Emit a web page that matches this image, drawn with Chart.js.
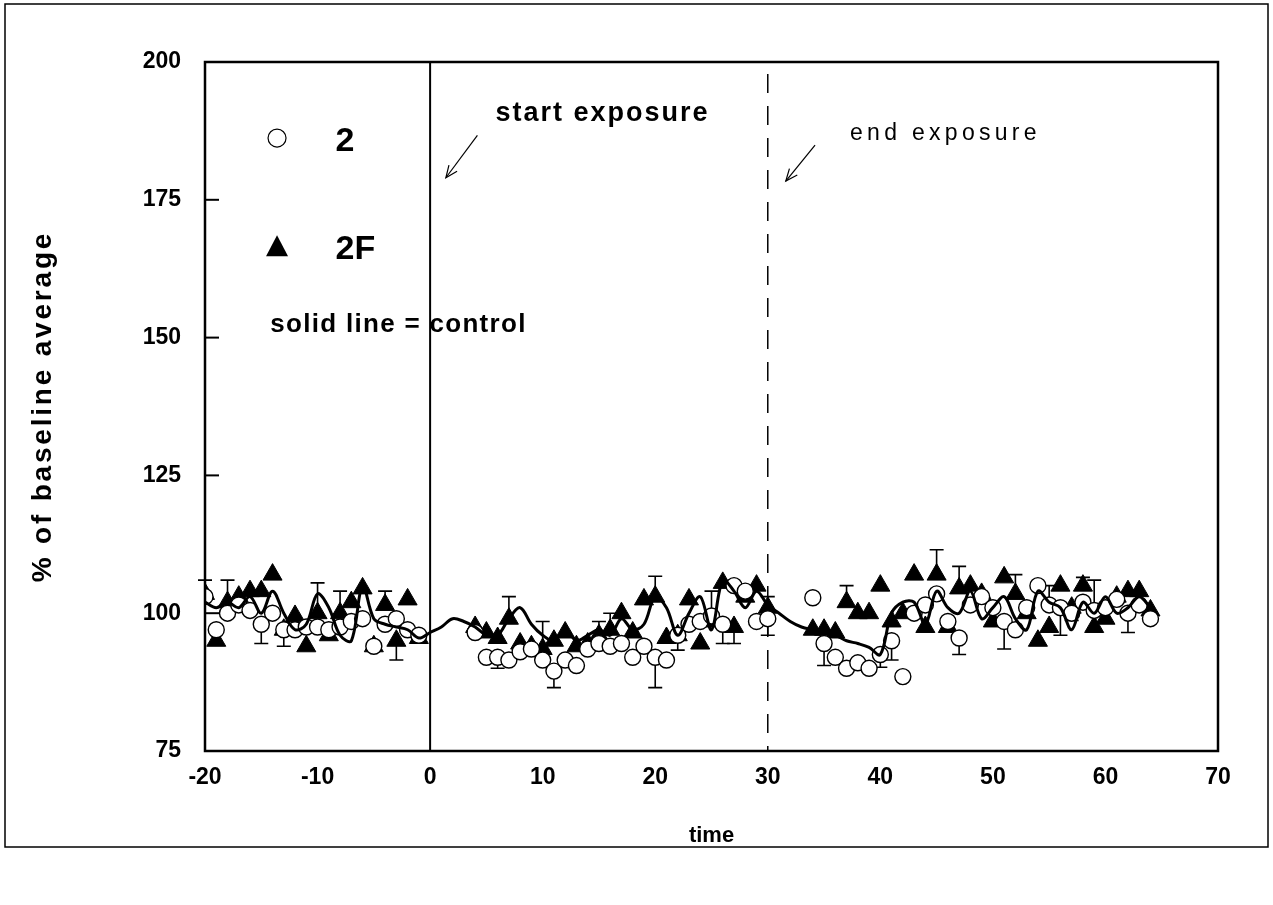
<!DOCTYPE html>
<html><head><meta charset="utf-8">
<script src="https://cdn.jsdelivr.net/npm/chart.js@4/dist/chart.umd.min.js"></script>
<style>html,body{margin:0;padding:0;background:#fff}canvas{display:block}</style>
</head><body>
<canvas id="c" width="1273" height="905"></canvas>
<script>
// ---- data ----
const timesA = [-20,-19,-18,-17,-16,-15,-14,-13,-12,-11,-10,-9,-8,-7,-6,-5,-4,-3,-2,-1];
const circA  = [103,97,100,101.5,100.5,98,100,97,97,97.5,97.5,97,97.5,98.5,99,94,98,99,97,96];
const triA   = [103.5,95,102,103,104,104,107,97,99.5,94,100,96,100,102,104.5,94,101.5,95,102.5,95.5];
const errCircA = [0,0,0,0,0,-3.5,0,0,0,0,0,0,0,0,0,0,0,0,0,0];
const errTriA  = [2.5,0,4,0,0,0,0,-3,0,0,5.5,0,4,0,0,0,2.5,-3.5,0,0];

const timesB = [4,5,6,7,8,9,10,11,12,13,14,15,16,17,18,19,20,21,22,23,24,25,26,27,28,29,30];
const circB  = [96.5,92,92,91.5,93,93.5,91.5,89.5,91.5,90.5,93.5,94.5,94,94.5,92,94,92,91.5,96,98,98.5,99.5,98,105,104,98.5,99];
const triB   = [97.5,96.5,95.5,99,94.5,94,93.5,95,96.5,94,94.5,96,97,100,96.5,102.5,103,95.5,96,102.5,94.5,98.5,105.5,97.5,103,105,101];
const errCircB = [0,0,-2,0,0,0,0,-3,0,0,0,0,0,0,0,0,-5.5,0,0,0,0,0,-3.5,0,0,0,-3];
const errTriB  = [0,0,0,4,0,0,5,0,0,0,0,2.5,3,0,0,0,3.7,0,-2.7,0,0,5.5,0,-3,0,0,2];

const timesC = [34,35,36,37,38,39,40,41,42,43,44,45,46,47,48,49,50,51,52,53,54,55,56,57,58,59,60,61,62,63,64];
const circC  = [102.8,94.5,92,90,91,90,92.5,95,88.5,100,101.5,103.5,98.5,95.5,101.5,103,101,98.5,97,101,105,101.5,101,100,102,100.5,101,102.5,100,101.5,99];
const triC   = [97,97,96.5,102,100,100,105,98.5,100,107,97.5,107,97.5,104.5,105,103.5,98.5,106.5,103.5,100,95,97.5,105,101,105,97.5,99,103,104,104,100.5];
const errCircC = [0,-4,0,0,0,0,-2.3,-3.5,0,0,0,0,0,-3,0,0,0,-5,0,0,0,3.5,-5,0,0,5.5,0,0,-3.5,0,0];
const errTriC  = [0,0,0,3,0,0,0,0,0,0,0,4.5,0,4,0,0,0,0,3.5,0,0,0,0,-2.3,1.5,0,0,0,0,0,0];

const controlTimes = [];
for (let t = -20; t <= 64; t++) controlTimes.push(t);
const controlValues = [
  102,101,102,101,103,100,104,100,97,98,
  103.5,101,96,95,105,99,98,97.5,97,95.5,
  96.5,97.5,99,98.5,97.5,96,96,99,101,98,
  96,95,97,95,96,97,96,99,97,98,
  103,101,96,100,103,97,106,104,101,104,
  101.5,100,98.5,97.5,97,96.5,96,95,94.5,93.8,
  92.5,100,102,102,98,104,101,100,104,99,
  101,103,99,97,104,102,101,97,102,100,
  103,100,101,103,101
];

const xTickValues = [-20,-10,0,10,20,30,40,50,60,70];
const yTickValues = [75,100,125,150,175,200];
const exposureStart = 0;
const exposureEnd = 30;
const legendLabels = ['2','2F'];
const noteText = 'solid line = control';
const startText = 'start exposure';
const endText = 'end exposure';

// ---- build ----
const pts = (ts, vs) => ts.map((t, i) => ({x: t, y: vs[i]}));
const circData = [...pts(timesA, circA), ...pts(timesB, circB), ...pts(timesC, circC)];
const triData  = [...pts(timesA, triA), ...pts(timesB, triB), ...pts(timesC, triC)];
const circErr = [...errCircA, ...errCircB, ...errCircC];
const triErr  = [...errTriA, ...errTriB, ...errTriC];
const ctrlData = pts(controlTimes, controlValues);

const FF = '"Liberation Sans", Arial, Helvetica, sans-serif';

function spaceTitle(scale, spacing) {
  if (scale._spaced) return;
  const orig = scale.drawTitle.bind(scale);
  scale.drawTitle = function () {
    const ctx = this.ctx;
    ctx.save();
    ctx.letterSpacing = spacing;
    orig();
    ctx.restore();
  };
  scale._spaced = true;
}

const deco = {
  id: 'deco',
  beforeDatasetsDraw(chart) {
    const {ctx, chartArea: a, scales: {x, y}} = chart;
    ctx.save();
    ctx.strokeStyle = '#000';
    let px = x.getPixelForValue(exposureStart);
    ctx.lineWidth = 2;
    ctx.beginPath(); ctx.moveTo(px, a.top); ctx.lineTo(px, a.bottom); ctx.stroke();
    px = x.getPixelForValue(exposureEnd);
    ctx.lineWidth = 1.5;
    ctx.setLineDash([19, 13]);
    ctx.beginPath(); ctx.moveTo(px, a.top + 12); ctx.lineTo(px, a.bottom); ctx.stroke();
    ctx.setLineDash([]);
    const drawErr = (data, err) => {
      ctx.lineWidth = 1.6;
      data.forEach((p, i) => {
        const e = err[i];
        if (!e) return;
        const cx = x.getPixelForValue(p.x);
        const y0 = y.getPixelForValue(p.y);
        const y1 = y.getPixelForValue(p.y + e);
        ctx.beginPath(); ctx.moveTo(cx, y0); ctx.lineTo(cx, y1);
        ctx.moveTo(cx - 7, y1); ctx.lineTo(cx + 7, y1); ctx.stroke();
      });
    };
    drawErr(triData, triErr);
    drawErr(circData, circErr);
    ctx.restore();
  },
  afterDraw(chart) {
    const {ctx, chartArea: a, scales: {x, y}} = chart;
    ctx.save();
    ctx.strokeStyle = '#000';
    ctx.fillStyle = '#000';
    ctx.lineWidth = 2.5;
    ctx.strokeRect(a.left, a.top, a.right - a.left, a.bottom - a.top);
    ctx.lineWidth = 2;
    yTickValues.forEach(v => {
      const py = y.getPixelForValue(v);
      ctx.beginPath(); ctx.moveTo(a.left, py); ctx.lineTo(a.left + 14, py); ctx.stroke();
    });
    ctx.lineWidth = 1.5;
    ctx.strokeRect(5, 4, 1263, 843);
    // legend
    const lx = x.getPixelForValue(-13.6);
    ctx.lineWidth = 1.2;
    ctx.beginPath(); ctx.arc(lx, y.getPixelForValue(186.2), 9, 0, Math.PI * 2); ctx.stroke();
    const ty = y.getPixelForValue(166.4);
    ctx.beginPath(); ctx.moveTo(lx, ty - 12); ctx.lineTo(lx + 11, ty + 9); ctx.lineTo(lx - 11, ty + 9); ctx.closePath(); ctx.fill();
    ctx.textBaseline = 'middle';
    ctx.textAlign = 'left';
    ctx.font = 'bold 34px ' + FF;
    ctx.fillText(legendLabels[0], x.getPixelForValue(-8.4), y.getPixelForValue(185.6));
    ctx.fillText(legendLabels[1], x.getPixelForValue(-8.4), y.getPixelForValue(166.0));
    ctx.font = 'bold 26px ' + FF;
    ctx.letterSpacing = '1.3px';
    ctx.fillText(noteText, x.getPixelForValue(-14.2), y.getPixelForValue(152.4));
    ctx.letterSpacing = '2px';
    ctx.font = 'bold 27px ' + FF;
    ctx.fillText(startText, x.getPixelForValue(5.8), y.getPixelForValue(190.6));
    ctx.letterSpacing = '4.3px';
    ctx.font = '23px ' + FF;
    ctx.fillText(endText, x.getPixelForValue(37.3), y.getPixelForValue(187.0));
    ctx.letterSpacing = '0px';
    const arrow = (x0, y0, x1, y1) => {
      ctx.lineWidth = 1.2;
      ctx.beginPath(); ctx.moveTo(x0, y0); ctx.lineTo(x1, y1); ctx.stroke();
      const ang = Math.atan2(y1 - y0, x1 - x0);
      const L = 13, sp = 0.4;
      ctx.beginPath();
      ctx.moveTo(x1 - L * Math.cos(ang - sp), y1 - L * Math.sin(ang - sp));
      ctx.lineTo(x1, y1);
      ctx.lineTo(x1 - L * Math.cos(ang + sp), y1 - L * Math.sin(ang + sp));
      ctx.stroke();
    };
    arrow(x.getPixelForValue(4.2), y.getPixelForValue(186.7), x.getPixelForValue(1.4), y.getPixelForValue(179.0));
    arrow(x.getPixelForValue(34.2), y.getPixelForValue(184.9), x.getPixelForValue(31.6), y.getPixelForValue(178.4));
    ctx.restore();
  }
};

new Chart(document.getElementById('c'), {
  type: 'scatter',
  data: {
    datasets: [
      {label: 'control', data: ctrlData, showLine: true, pointRadius: 0, borderColor: '#000', borderWidth: 3, tension: 0.35, order: 1},
      {label: legendLabels[0], data: circData, showLine: false, pointStyle: 'circle', pointRadius: 8, backgroundColor: '#fff', borderColor: '#000', pointBorderWidth: 1.4, order: 2},
      {label: legendLabels[1], data: triData, showLine: false, pointStyle: 'triangle', pointRadius: 11, backgroundColor: '#000', borderColor: '#000', pointBorderWidth: 1, order: 3}
    ]
  },
  options: {
    responsive: false,
    animation: false,
    layout: {padding: {left: 0, right: 55, top: 62, bottom: 0}},
    plugins: {legend: {display: false}, tooltip: {enabled: false}},
    scales: {
      x: {
        type: 'linear', min: -20, max: 70,
        afterBuildTicks(s) { s.ticks = xTickValues.map(v => ({value: v})); },
        afterFit(s) { s.height = 154; },
        grid: {display: false, drawTicks: false},
        border: {display: false},
        ticks: {color: '#000', font: {family: FF, size: 23, weight: 'bold'}, padding: 13, maxRotation: 0},
        title: {display: true, text: 'time', color: '#000', font: {family: FF, size: 22, weight: 'bold'}, padding: {bottom: 56}}
      },
      y: {
        min: 75, max: 200,
        afterBuildTicks(s) { s.ticks = yTickValues.map(v => ({value: v})); },
        afterFit(s) { s.width = 205; spaceTitle(s, '2.8px'); },
        grid: {display: false, drawTicks: false},
        border: {display: false},
        ticks: {color: '#000', font: {family: FF, size: 23, weight: 'bold'}, padding: 24},
        title: {display: true, text: '% of baseline average', color: '#000', font: {family: FF, size: 28, weight: 'bold'}, padding: {top: 26}}
      }
    }
  },
  plugins: [deco]
});
</script>
</body></html>
